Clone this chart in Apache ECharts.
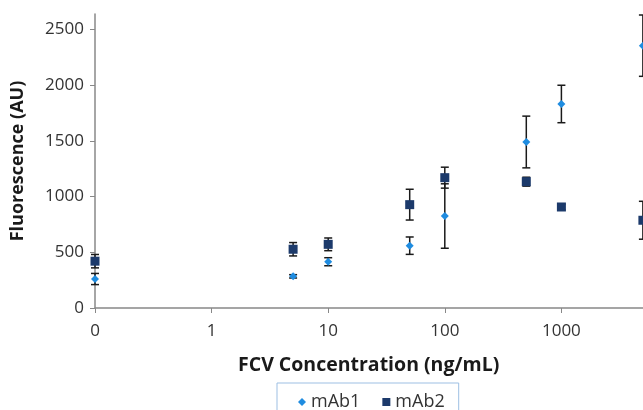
<!DOCTYPE html>
<html>
<head>
<meta charset="utf-8">
<script src="https://cdn.jsdelivr.net/npm/echarts@6/dist/echarts.min.js"></script>
<style>
  html, body { margin: 0; padding: 0; background: #fff; }
  #chart { width: 643px; height: 410px; }
</style>
</head>
<body>
<div id="chart"></div>
<script>
// FCV concentration (ng/mL); 0 sits at the 0.1 floor of the log axis
const concentration = [0, 5, 10, 50, 100, 500, 1000, 5000]
const mab1Mean = [260, 284, 415, 559, 825, 1489, 1830, 2353]
const mab1Err = [50, 15, 36, 78, 289, 232, 168, 275]
const mab2Mean = [420, 527, 571, 927, 1169, 1133, 906, 787]
const mab2Err = [60, 60, 57, 138, 94, 40, 25, 170]
const yTicks = [0, 500, 1000, 1500, 2000, 2500]

const LOG_FLOOR = 0.1
const xPos = c => (c === 0 ? LOG_FLOOR : c)

const points = (means) => concentration.map((c, i) => [xPos(c), means[i]])
const bars = (means, errs) => concentration.map((c, i) => [xPos(c), means[i] - errs[i], means[i] + errs[i]])

// 误差线
const renderErrorBar = (params, api) => {
  const x = api.value(0)
  const lo = api.coord([x, api.value(1)])
  const hi = api.coord([x, api.value(2)])
  const half = 4
  const style = { stroke: '#1a1a1a', lineWidth: 1.5 }
  return {
    type: 'group',
    children: [
      { type: 'line', shape: { x1: lo[0], y1: lo[1], x2: hi[0], y2: hi[1] }, style },
      { type: 'line', shape: { x1: lo[0] - half, y1: lo[1], x2: lo[0] + half, y2: lo[1] }, style },
      { type: 'line', shape: { x1: hi[0] - half, y1: hi[1], x2: hi[0] + half, y2: hi[1] }, style }
    ]
  }
}

const chart = echarts.init(document.getElementById('chart'))
chart.setOption({
  animation: false,
  textStyle: { fontFamily: 'Open Sans' },
  grid: { left: 95, right: -35, top: 14, bottom: 102, containLabel: false, outerBoundsMode: 'none' },
  legend: {
    data: [{ name: 'mAb1', icon: 'diamond' }, { name: 'mAb2', icon: 'rect' }],
    left: 277,
    top: 383,
    padding: [10, 14, 8, 21],
    itemGap: 22,
    itemWidth: 8,
    itemHeight: 8,
    borderColor: '#9dbfe3',
    borderWidth: 1,
    textStyle: { fontSize: 18, color: '#333', fontFamily: 'Open Sans' }
  },
  xAxis: {
    type: 'log',
    logBase: 10,
    min: LOG_FLOOR,
    max: 10000,
    axisLine: { lineStyle: { color: '#888', width: 1.5 } },
    axisTick: { length: 5, lineStyle: { color: '#888' } },
    minorTick: { show: false },
    splitLine: { show: false },
    axisLabel: {
      fontSize: 17,
      color: '#333',
      margin: 15,
      formatter: v => (v < 0.5 ? '0' : String(Math.round(v)))
    }
  },
  yAxis: {
    type: 'value',
    min: 0,
    max: 2637,
    name: 'Fluorescence (AU)',
    nameLocation: 'middle',
    nameGap: 68,
    nameTextStyle: { fontSize: 18, fontWeight: 'bold', color: '#1a1a1a', fontFamily: 'Open Sans' },
    axisLine: { show: true, lineStyle: { color: '#888', width: 1.5 } },
    axisTick: { show: true, length: 5, customValues: yTicks, lineStyle: { color: '#888' } },
    splitLine: { show: false },
    axisLabel: { fontSize: 17, color: '#333', margin: 11, customValues: yTicks, formatter: v => String(v) }
  },
  graphic: [{
    type: 'text',
    left: 238,
    top: 355,
    style: {
      text: 'FCV Concentration (ng/mL)',
      font: 'bold 19.5px "Open Sans"',
      fill: '#1a1a1a'
    }
  }],
  series: [
    {
      name: 'mAb1 err',
      type: 'custom',
      renderItem: renderErrorBar,
      data: bars(mab1Mean, mab1Err),
      encode: { x: 0, y: [1, 2] },
      clip: false,
      z: 1
    },
    {
      name: 'mAb2 err',
      type: 'custom',
      renderItem: renderErrorBar,
      data: bars(mab2Mean, mab2Err),
      encode: { x: 0, y: [1, 2] },
      clip: false,
      z: 1
    },
    {
      name: 'mAb1',
      type: 'scatter',
      symbol: 'diamond',
      symbolSize: 8,
      itemStyle: { color: '#1f8ce0', opacity: 1 },
      data: points(mab1Mean),
      z: 3
    },
    {
      name: 'mAb2',
      type: 'scatter',
      symbol: 'rect',
      symbolSize: 9,
      itemStyle: { color: '#1c3a6b', opacity: 1 },
      data: points(mab2Mean),
      z: 3
    }
  ]
})
</script>
</body>
</html>
